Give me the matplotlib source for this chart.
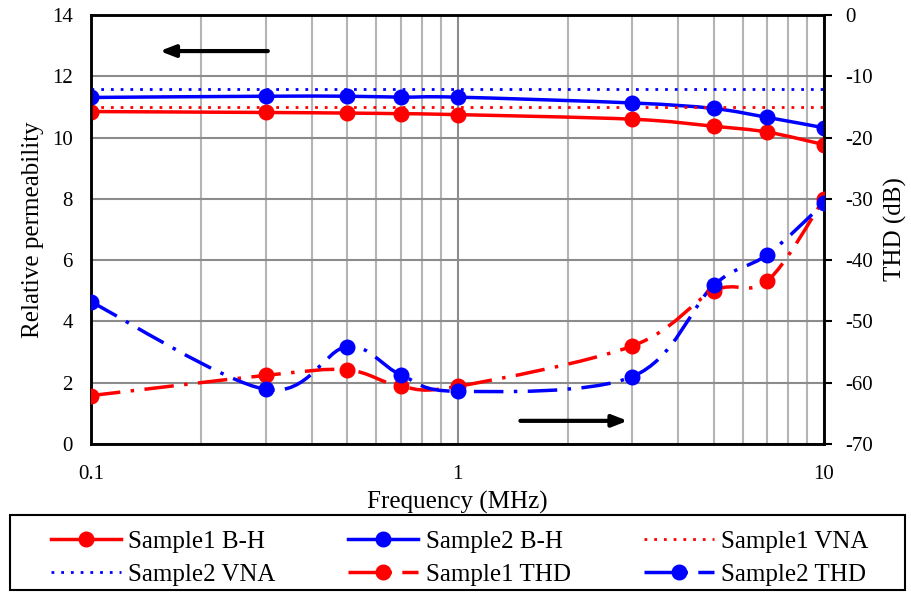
import numpy as np
import matplotlib
matplotlib.use("Agg")
import matplotlib.pyplot as plt
from matplotlib.path import Path
from matplotlib.patches import PathPatch, Rectangle
from matplotlib.lines import Line2D
from matplotlib.ticker import FixedLocator, NullFormatter

plt.rcParams['font.family'] = ['Liberation Serif', 'DejaVu Serif']
plt.rcParams['axes.unicode_minus'] = False

# Data
freq = [0.1, 0.3, 0.5, 0.7, 1, 3, 5, 7, 10]
s1_bh = [10.85, 10.82, 10.8, 10.78, 10.75, 10.6, 10.37, 10.18, 9.77]
s2_bh = [11.31, 11.35, 11.35, 11.32, 11.32, 11.13, 10.95, 10.66, 10.32]
vna_freq = [0.1, 10]
s1_vna = [11.0, 11.0]
s2_vna = [11.6, 11.6]
s1_thd = [-62.1, -58.8, -57.9, -60.6, -60.6, -54.0, -45.0, -43.4, -30.0]
s2_thd = [-46.8, -61.1, -54.1, -58.7, -61.4, -59.0, -44.1, -39.1, -30.7]

RED = '#ff0000'
BLUE = '#0000ff'
THD_DASH = (0, (8.5, 3, 1, 3))
DOTS = (0, (1, 2.5))


def smooth_path(x, y):
    # Excel style smoothed line: Catmull-Rom segments as cubic Bezier (in log-x space)
    lx = np.log10(x)
    y = np.asarray(y, float)
    pts = np.column_stack([lx, y])
    pad = np.vstack([pts[0], pts, pts[-1]])
    verts = [pts[0]]
    codes = [Path.MOVETO]
    for i in range(len(pts) - 1):
        p0, p1, p2, p3 = pad[i], pad[i + 1], pad[i + 2], pad[i + 3]
        c1 = p1 + (p2 - p0) / 6.0
        c2 = p2 - (p3 - p1) / 6.0
        verts += [c1, c2, p2]
        codes += [Path.CURVE4] * 3
    verts = np.array(verts)
    verts[:, 0] = 10 ** verts[:, 0]
    return Path(verts, codes)


def draw_series(axis, x, y, color, ls):
    patch = PathPatch(smooth_path(x, y), fill=False, edgecolor=color, lw=2.5,
                      linestyle=ls, zorder=3)
    axis.add_patch(patch)
    axis.plot(x, y, linestyle='none', marker='o', ms=10.5, color=color, zorder=4)


fig = plt.figure(figsize=(9.11, 5.94), dpi=100)
ax = fig.add_axes([0.0999, 0.2525, 0.8046, 0.7222])
ax2 = ax.twinx()

ax.set_xscale('log')
ax.set_xlim(0.1, 10)
ax.set_ylim(0, 14)
ax2.set_ylim(-70, 0)

# B-H curves and VNA levels on the permeability axis
draw_series(ax, freq, s1_bh, RED, '-')
draw_series(ax, freq, s2_bh, BLUE, '-')
ax.plot(vna_freq, s1_vna, color=RED, lw=2, linestyle=DOTS, zorder=3)
ax.plot(vna_freq, s2_vna, color=BLUE, lw=2, linestyle=DOTS, zorder=3)

# THD on the right axis
draw_series(ax2, freq, s1_thd, RED, THD_DASH)
draw_series(ax2, freq, s2_thd, BLUE, THD_DASH)

# Grid
ax.xaxis.set_minor_locator(FixedLocator([m * d for d in (0.1, 1) for m in range(2, 10)]))
ax.xaxis.set_minor_formatter(NullFormatter())
ax.set_xticks([0.1, 1, 10])
ax.set_xticklabels(['0.1', '1', '10'])
ax.set_yticks(range(0, 15, 2))
ax2.set_yticks(range(-70, 1, 10))
ax.grid(True, which='minor', axis='x', color='#b4b4b4', lw=1.5)
ax.grid(True, which='major', axis='x', color='#8c8c8c', lw=1.5)
ax.grid(True, which='major', axis='y', color='#8c8c8c', lw=1.5)
ax.set_axisbelow(True)

for a in (ax, ax2):
    for s in a.spines.values():
        s.set_color('black')
        s.set_linewidth(1.8)

ax.tick_params(axis='both', which='both', length=0, labelsize=15, colors='black')
ax.tick_params(axis='y', pad=13)
ax.tick_params(axis='x', pad=15)
ax2.tick_params(axis='y', length=6, width=1.5, direction='out', labelsize=15, pad=9)

ax.set_xlabel('Frequency (MHz)', fontsize=18, labelpad=5)
ax.set_ylabel('Relative permeability', fontsize=18, labelpad=6)
ax2.set_ylabel('THD (dB)', fontsize=18, labelpad=8)

# Axis indicator arrows
ax.annotate('', xy=(0.09, 0.916), xytext=(0.245, 0.916), xycoords='axes fraction',
            arrowprops=dict(arrowstyle='-|>,head_length=0.9,head_width=0.35', color='black', lw=3))
ax.annotate('', xy=(0.736, 0.054), xytext=(0.582, 0.054), xycoords='axes fraction',
            arrowprops=dict(arrowstyle='-|>,head_length=0.9,head_width=0.35', color='black', lw=3))

# Legend
handles = [
    Line2D([], [], color=RED, lw=2.5, marker='o', ms=10.5),
    Line2D([], [], color=BLUE, lw=2.5, marker='o', ms=10.5),
    Line2D([], [], color=RED, lw=2, linestyle=DOTS),
    Line2D([], [], color=BLUE, lw=2, linestyle=DOTS),
    Line2D([], [], color=RED, lw=2.5, marker='o', ms=10.5, linestyle=THD_DASH),
    Line2D([], [], color=BLUE, lw=2.5, marker='o', ms=10.5, linestyle=THD_DASH),
]
labels = ['Sample1 B-H', 'Sample2 B-H', 'Sample1 VNA',
          'Sample2 VNA', 'Sample1 THD', 'Sample2 THD']
# order so rows read across like the reference
order = [0, 3, 1, 4, 2, 5]
fig.legend([handles[i] for i in order], [labels[i] for i in order],
           loc='center left', bbox_to_anchor=(0.0555, 0.06, 0.898, 0.0),
           mode='expand', ncol=3, fontsize=18, frameon=False,
           handlelength=2.8, borderaxespad=0, borderpad=0,
           labelspacing=0.42, handletextpad=0.3)
fig.patches.append(Rectangle((10 / 911, 4 / 594), 895 / 911, 75 / 594, transform=fig.transFigure,
                             fill=False, edgecolor='black', lw=1.5))

fig.savefig('out.png', dpi=100)
